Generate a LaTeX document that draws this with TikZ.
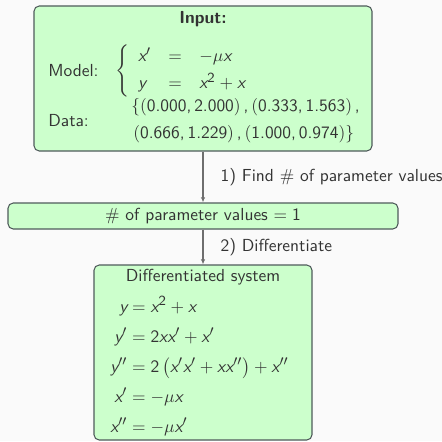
\documentclass[tikz,border=0pt]{standalone}
\usepackage{amsmath}
\renewcommand{\familydefault}{\sfdefault}
\usepackage[italic,noequal,noplus,nominus,nosmalldelims]{mathastext}
\usetikzlibrary{arrows.meta,positioning}
\definecolor{bxfill}{HTML}{CCFFCC}
\definecolor{bxline}{HTML}{4F5B5B}
\definecolor{bgpage}{HTML}{FAFAFA}
\definecolor{txtgray}{HTML}{333333}
\definecolor{arrgray}{HTML}{6E6E6E}
\newcommand{\pxu}{0.574pt}

\begin{document}
\begin{tikzpicture}[x=\pxu,y=-\pxu,
  every node/.style={font=\sffamily,text=txtgray},
  box/.style={draw=bxline,fill=bxfill,rounded corners=3pt,line width=0.6pt,inner sep=0pt},
  arr/.style={-{Latex[length=3pt,width=2.6pt]},draw=arrgray,line width=0.7pt},
  lbl/.style={anchor=west,inner sep=0pt,xshift={17*\pxu}},
  txt/.style={anchor=west,inner sep=0pt}]
  \fill[bgpage] (0,0) rectangle (442,441);
  \useasboundingbox (0,0) rectangle (442,441);
  % input box
  \node[box,minimum width={338*\pxu},minimum height={145*\pxu}] (input) at (203,78.5) {};
  \node[font=\sffamily\bfseries] (intitle) at (203,19) {Input:};
  \node[txt] (modellbl) at (48,71) {Model:};
  \node[txt] (modeleq) at (115,71) {$\left\{\begin{array}{lcl} x' & = & -\mu x\\[3pt] y & = & x^2+x\end{array}\right.$};
  \node[txt] (datalbl) at (48,121) {Data:};
  \node[txt] (data1) at (131,107) {$\{\left(0.000,2.000\right),\left(0.333,1.563\right),$};
  \node[txt] (data2) at (133,134) {$\left(0.666,1.229\right),\left(1.000,0.974\right)\}$};
  % parameter count
  \node[box,minimum width={390*\pxu},minimum height={26*\pxu}] (count) at (203,216) {};
  \node (counttxt) at (203,216) {$\#$ of parameter values $=1$};
  % differentiated system
  \node[box,minimum width={218*\pxu},minimum height={175*\pxu}] (diff) at (203,352.5) {};
  \node (difftitle) at (203,277) {Differentiated system};
  \node[txt] (diffeq) at (110,367.5) {$\begin{aligned}
    y &= x^2+x\\[1pt]
    y' &= 2xx'+x'\\[1pt]
    y'' &= 2\left(x'x'+xx''\right)+x''\\[1pt]
    x' &= -\mu x\\[1pt]
    x'' &= -\mu x'
  \end{aligned}$};
  % steps
  \draw[arr] (input.south) -- (count.north) node[lbl,midway] {1) Find $\#$ of parameter values};
  \draw[arr] (count.south) -- (diff.north) node[lbl,midway] {2) Differentiate};
\end{tikzpicture}
\end{document}
